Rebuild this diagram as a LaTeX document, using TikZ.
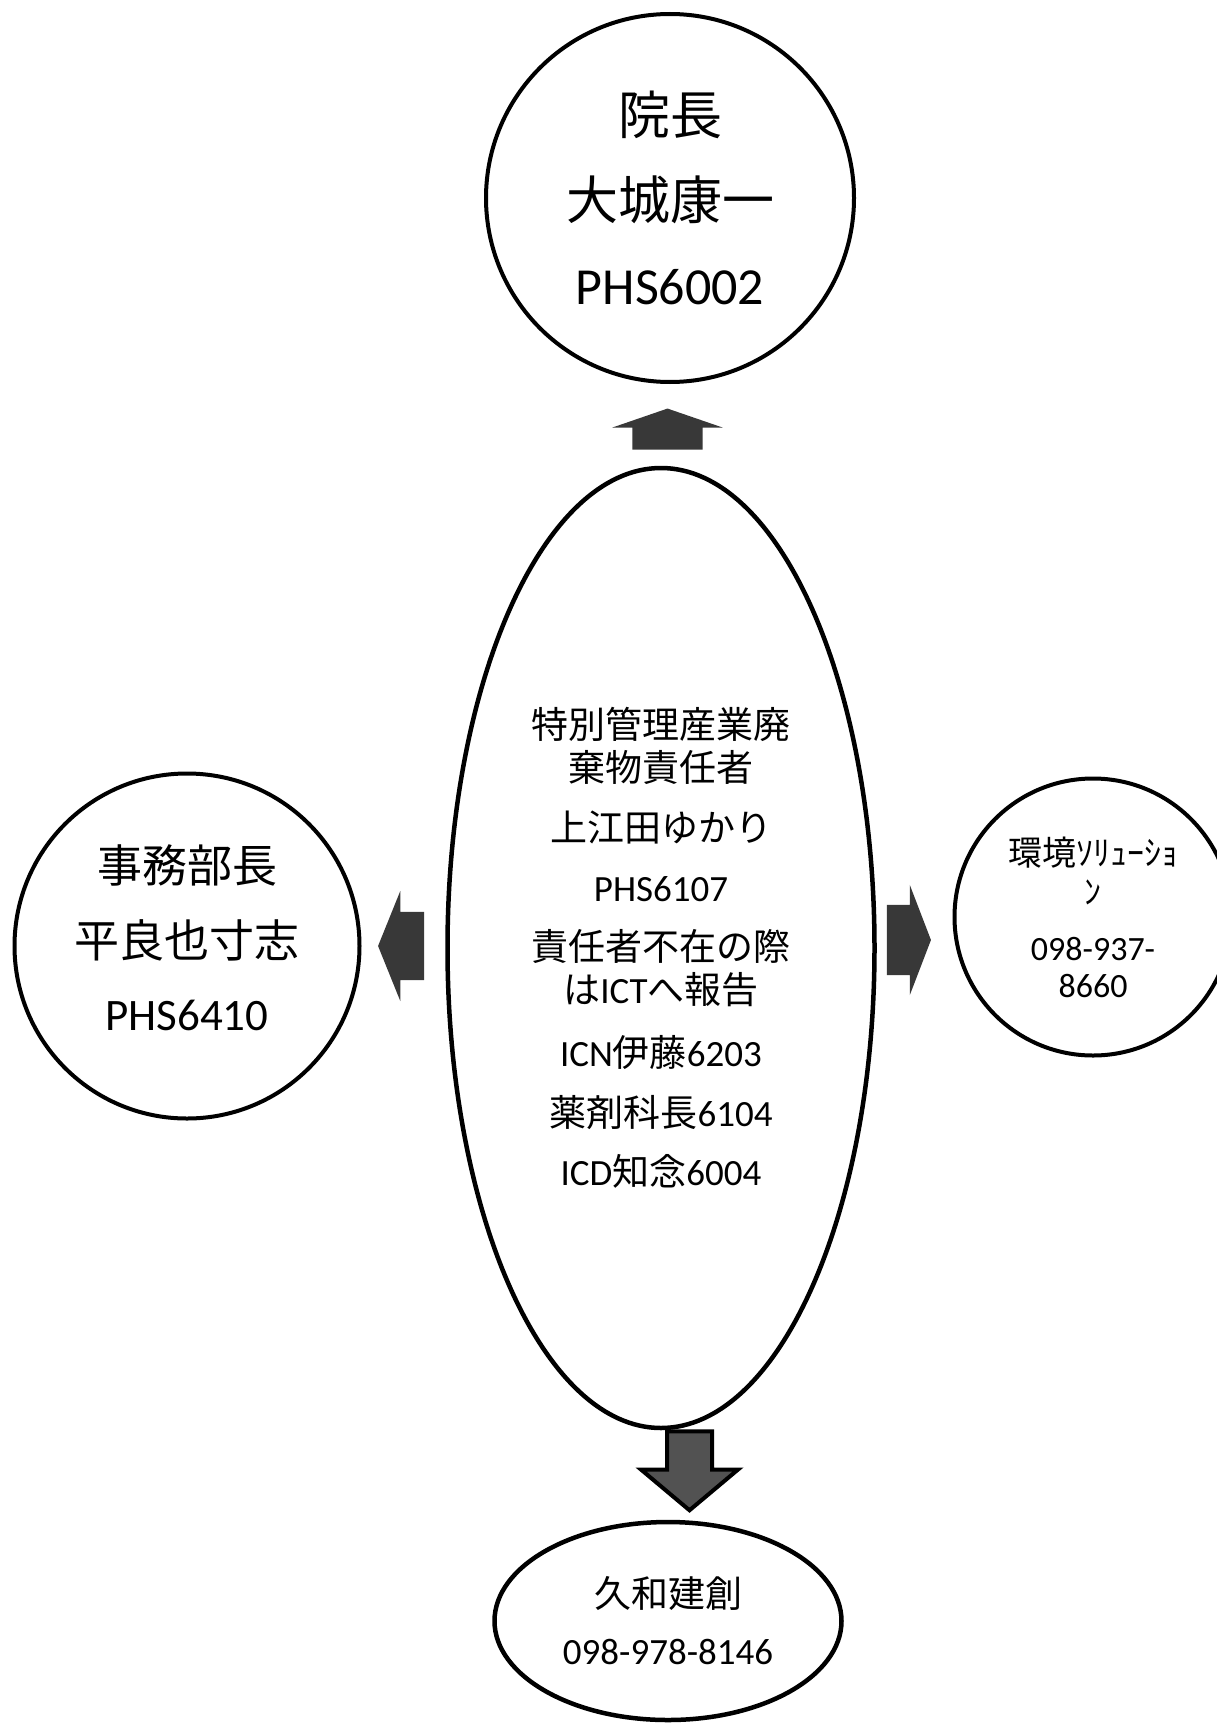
\documentclass[tikz,border=0pt]{standalone}
\usepackage{fontspec}
\setmainfont{Carlito}
\newfontfamily\jpfont{Noto Sans CJK JP}
\newcommand{\jpn}[1]{{\jpfont #1}}
\usetikzlibrary{shapes.geometric,shapes.arrows,calc}

\tikzset{
  bubble/.style={draw, line width=4pt, circle, inner sep=0pt, align=center},
  oval/.style={draw, line width=4.5pt, ellipse, inner sep=0pt, align=center},
  blockarrow/.style={single arrow, inner xsep=0pt, fill=black!78, anchor=tail}
}

\begin{document}
\begin{tikzpicture}[x=1pt,y=-1pt]
\useasboundingbox (0,0) rectangle (1217,1723);

% people and firms
\node[bubble, minimum size=368pt, font=\fontsize{52}{85}\selectfont] (boss) at (670,198)
  {\jpn{院長}\\\jpn{大城康一}\\PHS6002};
\node[oval, minimum width=427pt, minimum height=960pt, font=\fontsize{37}{43}\selectfont] (duty) at (661,948)
  {\jpn{特別管理産業廃}\\\jpn{棄物責任者}\\[17pt]\jpn{上江田ゆかり}\\[17pt]PHS6107\\[16pt]%
   \jpn{責任者不在の際}\\\jpn{は}ICT\jpn{へ報告}\\[20pt]ICN\jpn{伊藤}6203\\[17pt]%
   \jpn{薬剤科長}6104\\[16pt]ICD\jpn{知念}6004};
\node[bubble, minimum size=345pt, font=\fontsize{45}{75}\selectfont] (office) at (187,946)
  {\jpn{事務部長}\\\jpn{平良也寸志}\\[-2pt]PHS6410\rule[-16pt]{0pt}{0pt}};
\node[bubble, minimum size=277pt, font=\fontsize{34}{40}\selectfont] (envsol) at (1093,917)
  {\jpn{環境ｿﾘｭｰｼｮ}\\[-1pt]\jpn{ﾝ}\\[16pt]098-937-\\[-3pt]8660};
\node[oval, minimum width=347pt, minimum height=198pt, font=\fontsize{37}{57}\selectfont] (kuwa) at (668,1621)
  {\jpn{久和建創}\\098-978-8146};

% block arrows
\node[blockarrow, rotate=90, minimum height=41pt, inner ysep=35pt,
  single arrow head extend=20pt, single arrow tip angle=142] (toboss) at ($(duty.north)+(6.5,-16)$) {};
\node[blockarrow, rotate=180, minimum height=46pt, inner ysep=34pt,
  single arrow head extend=21pt, single arrow tip angle=136] (tooffice) at ($(duty.west)+(-21,-2)$) {};
\node[blockarrow, minimum height=44pt, inner ysep=35pt,
  single arrow head extend=20pt, single arrow tip angle=138] (toenvsol) at ($(duty.east)+(10,-8)$) {};
\node[blockarrow, rotate=-90, draw=black, line width=4pt, fill=black!68, minimum height=79pt, inner ysep=20.5pt,
  single arrow head extend=26pt, single arrow tip angle=100] (tokuwa) at ($(duty.south)+(28.5,-1)$) {};
\end{tikzpicture}
\end{document}
